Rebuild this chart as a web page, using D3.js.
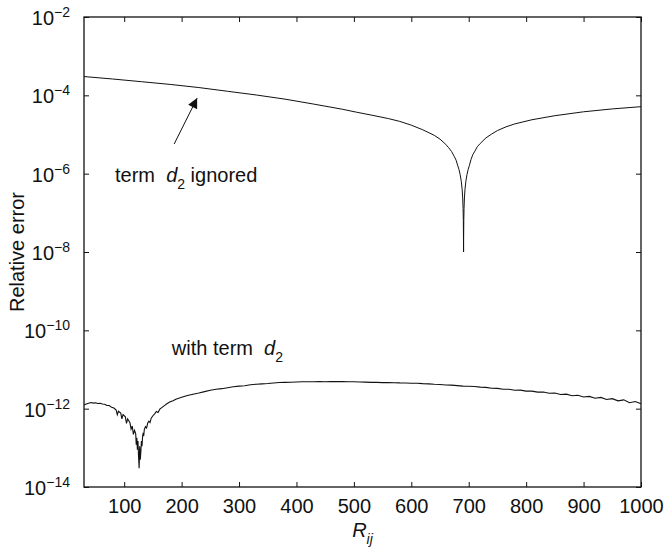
<!DOCTYPE html>
<html>
<head>
<meta charset="utf-8">
<script src="https://cdn.jsdelivr.net/npm/d3@7"></script>
<style>
  html, body { margin: 0; padding: 0; background: #fff; }
  svg { display: block; }
  text { font-family: "Liberation Sans", Arial, Helvetica, sans-serif; fill: #111; }
</style>
</head>
<body>
<svg id="chart" width="664" height="551"></svg>
<script>
// Axis ranges and ticks
const xDomain = [30, 1000];
const yDomain = [1e-14, 1e-2];
const xTicks = [100, 200, 300, 400, 500, 600, 700, 800, 900, 1000];
const yTickExponents = [-2, -4, -6, -8, -10, -12, -14];

// Relative error when the d2 term is dropped: [R_ij, error]
const ignoredSeries = [
  [30, 3.02e-4], [80, 2.61e-4], [130, 2.23e-4], [180, 1.90e-4], [230, 1.58e-4],
  [280, 1.27e-4], [330, 1.02e-4], [380, 8.0e-5], [430, 5.98e-5], [480, 4.41e-5],
  [505, 3.7e-5], [530, 3.14e-5], [560, 2.55e-5], [580, 2.16e-5], [600, 1.73e-5],
  [620, 1.32e-5], [640, 9.5e-6], [650, 7.6e-6], [660, 5.6e-6], [665, 4.6e-6],
  [670, 3.7e-6], [675, 2.72e-6], [678, 2.2e-6], [681, 1.58e-6], [683, 1.28e-6],
  [685, 9.6e-7], [687, 6.4e-7], [688.5, 4.0e-7], [689.5, 2.4e-7], [690.2, 1.28e-7],
  [690.6, 6.4e-8], [690.85, 2.4e-8], [691, 1.0e-8], [691.15, 2.4e-8], [691.4, 6.4e-8],
  [691.8, 1.28e-7], [692.5, 2.4e-7], [693.5, 4.0e-7], [695, 6.4e-7], [697, 9.6e-7],
  [699, 1.28e-6], [701, 1.6e-6], [704, 2.3e-6], [707, 3.05e-6], [710, 3.6e-6],
  [715, 4.9e-6], [720, 5.9e-6], [730, 8.2e-6], [740, 1.03e-5], [750, 1.26e-5],
  [765, 1.57e-5], [780, 1.86e-5], [810, 2.38e-5], [850, 3.02e-5], [900, 3.8e-5],
  [950, 4.5e-5], [1000, 5.13e-5]
];

// Relative error with the d2 term kept: [R_ij, error]
const withTermSeries = [
  [30, 1.24e-12], [34, 1.32e-12], [38, 1.38e-12], [42, 1.44e-12], [46, 1.39e-12],
  [50, 1.42e-12], [54, 1.36e-12], [58, 1.38e-12], [62, 1.31e-12], [66, 1.30e-12],
  [70, 1.21e-12], [74, 1.20e-12], [78, 1.08e-12], [82, 1.04e-12], [86, 9.2e-13],
  [88, 7.0e-13], [90, 8.6e-13], [94, 7.7e-13], [96, 5.5e-13], [98, 7.1e-13],
  [102, 6.2e-13], [104, 4.2e-13], [106, 5.5e-13], [110, 4.4e-13], [112, 3.0e-13],
  [114, 3.6e-13], [116, 2.2e-13], [118, 2.8e-13], [120, 2.3e-13], [121, 1.2e-13],
  [122, 1.8e-13], [123, 9e-14], [124, 1.5e-13], [125, 6e-14], [126, 3.0e-14],
  [127, 1.1e-13], [128, 5e-14], [129, 8e-14], [130, 1.5e-13], [131, 1.1e-13],
  [132, 1.9e-13], [133, 2.4e-13], [134, 2.0e-13], [135, 2.9e-13], [137, 3.5e-13],
  [139, 3.2e-13], [141, 4.3e-13], [143, 4.8e-13], [145, 4.4e-13], [147, 5.7e-13],
  [150, 6.6e-13], [153, 7.4e-13], [156, 8.5e-13], [159, 8.0e-13], [162, 9.7e-13],
  [166, 1.08e-12], [170, 1.20e-12], [175, 1.36e-12], [180, 1.50e-12], [185, 1.60e-12],
  [190, 1.75e-12], [195, 1.85e-12], [200, 1.96e-12], [210, 2.16e-12], [220, 2.34e-12],
  [230, 2.50e-12], [240, 2.72e-12], [250, 2.95e-12], [260, 3.13e-12], [270, 3.24e-12],
  [280, 3.43e-12], [290, 3.62e-12], [300, 3.76e-12], [310, 3.86e-12], [320, 4.07e-12],
  [330, 4.22e-12], [340, 4.30e-12], [350, 4.38e-12], [360, 4.52e-12], [370, 4.65e-12],
  [380, 4.70e-12], [390, 4.72e-12], [400, 4.79e-12], [410, 4.86e-12], [420, 4.88e-12],
  [430, 4.87e-12], [440, 4.93e-12], [450, 4.88e-12], [460, 4.91e-12], [470, 4.89e-12],
  [480, 4.90e-12], [490, 4.86e-12], [500, 4.85e-12], [510, 4.79e-12], [520, 4.77e-12],
  [530, 4.70e-12], [540, 4.68e-12], [550, 4.62e-12], [560, 4.63e-12], [570, 4.60e-12],
  [580, 4.55e-12], [590, 4.54e-12], [600, 4.47e-12], [610, 4.44e-12], [620, 4.35e-12],
  [630, 4.30e-12], [640, 4.19e-12], [650, 4.14e-12], [660, 4.03e-12], [670, 3.99e-12],
  [680, 3.87e-12], [690, 3.76e-12], [700, 3.72e-12], [710, 3.68e-12], [720, 3.55e-12],
  [730, 3.50e-12], [740, 3.33e-12], [750, 3.30e-12], [760, 3.14e-12], [770, 3.12e-12],
  [780, 2.96e-12], [790, 2.97e-12], [800, 2.80e-12], [810, 2.81e-12], [820, 2.64e-12],
  [830, 2.66e-12], [840, 2.47e-12], [850, 2.50e-12], [860, 2.31e-12], [870, 2.35e-12],
  [880, 2.13e-12], [890, 2.20e-12], [900, 1.99e-12], [910, 2.06e-12], [920, 1.85e-12],
  [930, 1.94e-12], [940, 1.72e-12], [950, 1.80e-12], [960, 1.58e-12], [970, 1.68e-12],
  [980, 1.42e-12], [990, 1.52e-12], [1000, 1.33e-12]
];

// Annotation anchors in data units
const ignoredLabelAt = [84, 6.2e-7];
const withTermLabelAt = [183, 2.3e-11];
const arrowFrom = [187, 5.7e-6];
const arrowTo = [227, 8.5e-5];

const svg = d3.select("#chart");
const margin = { left: 84, right: 23, top: 17, bottom: 64 };
const W = 664, H = 551;
const innerW = W - margin.left - margin.right;
const innerH = H - margin.top - margin.bottom;

const x = d3.scaleLinear().domain(xDomain).range([margin.left, margin.left + innerW]);
const y = d3.scaleLog().domain(yDomain).range([margin.top + innerH, margin.top]);

const yTicks = yTickExponents.map(e => Math.pow(10, e));

// Curves
const line = d3.line().x(d => x(d[0])).y(d => y(d[1]));

svg.append("path")
  .datum(ignoredSeries)
  .attr("d", line)
  .attr("fill", "none")
  .attr("stroke", "#111")
  .attr("stroke-width", 1);

svg.append("path")
  .datum(withTermSeries)
  .attr("d", line)
  .attr("fill", "none")
  .attr("stroke", "#111")
  .attr("stroke-width", 1.1);

// Inward ticks on all four sides
function styleAxis(g) {
  g.select(".domain").remove();
  g.selectAll(".tick line").attr("stroke", "#111").attr("stroke-width", 1);
}

const bottomAxis = svg.append("g")
  .attr("transform", `translate(0,${margin.top + innerH})`)
  .call(d3.axisBottom(x).tickValues(xTicks).tickSize(-5).tickSizeOuter(0)
    .tickPadding(12).tickFormat(d3.format("d")));
styleAxis(bottomAxis);
bottomAxis.selectAll(".tick text")
  .attr("font-size", 20)
  .attr("font-family", "Liberation Sans, Arial, sans-serif")
  .attr("fill", "#111");

const topAxis = svg.append("g")
  .attr("transform", `translate(0,${margin.top})`)
  .call(d3.axisTop(x).tickValues(xTicks).tickSize(-5).tickSizeOuter(0).tickFormat(""));
styleAxis(topAxis);

const leftAxis = svg.append("g")
  .attr("transform", `translate(${margin.left},0)`)
  .call(d3.axisLeft(y).tickValues(yTicks).tickSize(-5).tickSizeOuter(0).tickFormat(""));
styleAxis(leftAxis);

const rightAxis = svg.append("g")
  .attr("transform", `translate(${margin.left + innerW},0)`)
  .call(d3.axisRight(y).tickValues(yTicks).tickSize(-5).tickSizeOuter(0).tickFormat(""));
styleAxis(rightAxis);

// Powers-of-ten labels with superscript exponents
const yLabels = svg.append("g").attr("class", "ylabels");
yTickExponents.forEach(e => {
  const t = yLabels.append("text")
    .attr("x", margin.left - 14)
    .attr("y", y(Math.pow(10, e)) + 8)
    .attr("text-anchor", "end")
    .attr("font-size", 20);
  t.append("tspan").text("10");
  t.append("tspan")
    .attr("font-size", 14)
    .attr("dy", -8)
    .text("\u2212" + Math.abs(e));
});

// Frame
svg.append("rect")
  .attr("x", margin.left)
  .attr("y", margin.top)
  .attr("width", innerW)
  .attr("height", innerH)
  .attr("fill", "none")
  .attr("stroke", "#111")
  .attr("stroke-width", 1.3);

// Axis titles
const xTitle = svg.append("text")
  .attr("x", margin.left + innerW / 2)
  .attr("y", 537)
  .attr("text-anchor", "middle")
  .attr("font-size", 20);
xTitle.append("tspan").attr("font-style", "italic").text("R");
xTitle.append("tspan").attr("font-style", "italic").attr("font-size", 14).attr("dy", 7).text("ij");

svg.append("text")
  .attr("transform", `translate(24,${margin.top + innerH / 2}) rotate(-90)`)
  .attr("text-anchor", "middle")
  .attr("font-size", 20)
  .text("Relative error");

// Curve annotations
function termLabel(prefix, suffix, at) {
  const t = svg.append("text")
    .attr("x", x(at[0]))
    .attr("y", y(at[1]))
    .attr("font-size", 20)
    .attr("xml:space", "preserve");
  t.append("tspan").text(prefix + "  ");
  t.append("tspan").attr("font-style", "italic").text("d");
  t.append("tspan").attr("font-size", 14).attr("dy", 7).text("2");
  if (suffix) t.append("tspan").attr("dy", -7).text(" " + suffix);
}
termLabel("term", "ignored", ignoredLabelAt);
termLabel("with term", "", withTermLabelAt);

// Arrow pointing at the upper curve
svg.append("defs").append("marker")
  .attr("id", "head")
  .attr("viewBox", "0 0 10 10")
  .attr("refX", 10)
  .attr("refY", 5)
  .attr("markerUnits", "userSpaceOnUse")
  .attr("markerWidth", 14)
  .attr("markerHeight", 10)
  .attr("orient", "auto")
  .append("path")
  .attr("d", "M0,0 L10,5 L0,10 Z")
  .attr("fill", "#111");

svg.append("line")
  .attr("x1", x(arrowFrom[0]))
  .attr("y1", y(arrowFrom[1]))
  .attr("x2", x(arrowTo[0]))
  .attr("y2", y(arrowTo[1]))
  .attr("stroke", "#111")
  .attr("stroke-width", 1)
  .attr("marker-end", "url(#head)");
</script>
</body>
</html>
